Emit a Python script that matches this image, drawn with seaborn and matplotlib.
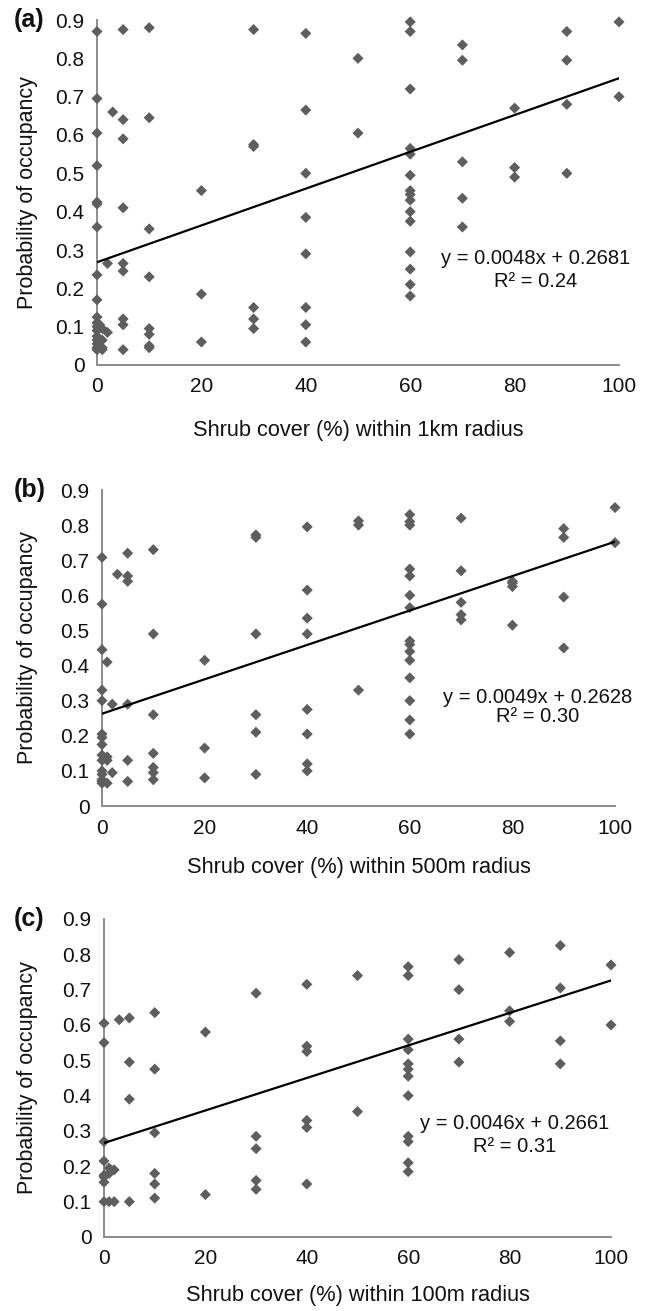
import matplotlib
matplotlib.use("Agg")
import matplotlib.pyplot as plt
import seaborn as sns
import pandas as pd

# values: x positions and the y values stacked at each one
a_xs = [0, 0.5, 1, 2, 3, 5, 10, 20, 30, 40, 50, 60, 70, 80, 90, 100]
a_ys = [
    [0.87, 0.695, 0.605, 0.52, 0.425, 0.42, 0.36, 0.235, 0.17, 0.125, 0.11, 0.10, 0.09, 0.075, 0.065, 0.055, 0.045, 0.04],
    [0.105, 0.06, 0.05],
    [0.095, 0.065, 0.045, 0.04],
    [0.265, 0.085],
    [0.66],
    [0.875, 0.64, 0.59, 0.41, 0.265, 0.245, 0.12, 0.105, 0.04],
    [0.88, 0.645, 0.355, 0.23, 0.095, 0.08, 0.05, 0.045],
    [0.455, 0.185, 0.06],
    [0.875, 0.575, 0.57, 0.15, 0.12, 0.095],
    [0.865, 0.665, 0.5, 0.385, 0.29, 0.15, 0.105, 0.06],
    [0.8, 0.605],
    [0.895, 0.87, 0.72, 0.565, 0.55, 0.495, 0.455, 0.445, 0.43, 0.4, 0.375, 0.295, 0.25, 0.21, 0.18],
    [0.835, 0.795, 0.53, 0.435, 0.36],
    [0.67, 0.515, 0.49],
    [0.87, 0.795, 0.68, 0.5],
    [0.895, 0.7],
]

b_xs = [0, 1, 2, 3, 5, 10, 20, 30, 40, 50, 60, 70, 80, 90, 100]
b_ys = [
    [0.708, 0.575, 0.445, 0.33, 0.30, 0.205, 0.195, 0.175, 0.145, 0.13, 0.10, 0.09, 0.075, 0.07, 0.065],
    [0.41, 0.14, 0.13, 0.065],
    [0.29, 0.095],
    [0.66],
    [0.72, 0.655, 0.64, 0.29, 0.13, 0.07],
    [0.73, 0.49, 0.26, 0.15, 0.11, 0.095, 0.075],
    [0.415, 0.165, 0.08],
    [0.772, 0.765, 0.49, 0.26, 0.21, 0.09],
    [0.795, 0.615, 0.535, 0.49, 0.275, 0.205, 0.12, 0.10],
    [0.812, 0.80, 0.33],
    [0.83, 0.81, 0.80, 0.675, 0.655, 0.60, 0.565, 0.47, 0.46, 0.44, 0.415, 0.365, 0.30, 0.245, 0.205],
    [0.82, 0.67, 0.58, 0.545, 0.53],
    [0.64, 0.635, 0.625, 0.515],
    [0.79, 0.765, 0.595, 0.45],
    [0.85, 0.75],
]

c_xs = [0, 1, 2, 3, 5, 10, 20, 30, 40, 50, 60, 70, 80, 90, 100]
c_ys = [
    [0.605, 0.55, 0.27, 0.215, 0.175, 0.17, 0.155, 0.10],
    [0.195, 0.18, 0.10],
    [0.19, 0.10],
    [0.615],
    [0.62, 0.495, 0.39, 0.10],
    [0.635, 0.475, 0.295, 0.18, 0.15, 0.11],
    [0.58, 0.12],
    [0.69, 0.285, 0.25, 0.16, 0.135],
    [0.715, 0.54, 0.525, 0.33, 0.31, 0.15],
    [0.74, 0.355],
    [0.765, 0.74, 0.56, 0.53, 0.49, 0.475, 0.455, 0.40, 0.285, 0.27, 0.21, 0.185],
    [0.785, 0.70, 0.56, 0.495],
    [0.805, 0.64, 0.61],
    [0.825, 0.705, 0.555, 0.49],
    [0.77, 0.60],
]

# trend lines as printed on the chart
slopes = [0.0048, 0.0049, 0.0046]
intercepts = [0.2681, 0.2628, 0.2661]
r2 = ["0.24", "0.30", "0.31"]
radius = ["1km", "500m", "100m"]
letters = ["(a)", "(b)", "(c)"]

sns.set_style("white")
plt.rcParams["font.family"] = ["Liberation Sans", "DejaVu Sans"]

W, H = 648, 1311
fig = plt.figure(figsize=(W / 100, H / 100), dpi=100)

# axes boxes in pixels: left, right, top (0.9), bottom (0)
boxes = [(97, 619, 20, 365), (102, 615, 490, 806), (104, 611, 919, 1237)]
xlab_y = [430, 867, 1296]
eq_pos = [(84, 0.279, 0.219), (85, 0.31, 0.255), (81, 0.32, 0.257)]

grey = "#8c8c8c"
dot = "#5e5e5e"

panels = [(a_xs, a_ys), (b_xs, b_ys), (c_xs, c_ys)]
for i, (xs, ys) in enumerate(panels):
    l, r, t, b = boxes[i]
    ax = fig.add_axes([l / W, 1 - b / H, (r - l) / W, (b - t) / H])

    df = pd.DataFrame([(x, y) for x, col in zip(xs, ys) for y in col], columns=["x", "y"])
    sns.scatterplot(data=df, x="x", y="y", marker="D", color=dot, s=32,
                    edgecolor="none", clip_on=False, zorder=3, ax=ax)

    line = pd.DataFrame({"x": [0, 100]})
    line["y"] = slopes[i] * line["x"] + intercepts[i]
    sns.lineplot(data=line, x="x", y="y", color="black", linewidth=1.6, ax=ax, zorder=4)

    ax.set_xlim(0, 100)
    ax.set_ylim(0, 0.9)
    ax.set_xticks(range(0, 101, 20))
    yt = [k / 10 for k in range(10)]
    ax.set_yticks(yt)
    ax.set_yticklabels(["0"] + [f"{v:.1f}" for v in yt[1:]])
    ax.set_xlabel("")
    ax.set_ylabel("")
    for s in ["top", "right"]:
        ax.spines[s].set_visible(False)
    for s in ["left", "bottom"]:
        ax.spines[s].set_color(grey)
        ax.spines[s].set_linewidth(1.4)
    ax.tick_params(direction="out", length=5, width=1.2, color=grey,
                   labelsize=15, labelcolor="#111111", pad=4)

    ex, ey1, ey2 = eq_pos[i]
    ax.text(ex, ey1, f"y = {slopes[i]:.4f}x + {intercepts[i]:.4f}", ha="center", va="center",
            fontsize=14.5, color="#111111")
    ax.text(ex, ey2, f"R² = {r2[i]}", ha="center", va="center", fontsize=14.5, color="#111111")

    fig.text(28 / W, 1 - (t + b) / 2 / H, "Probability of occupancy", rotation=90,
             ha="center", va="center", fontsize=15.5, color="#111111")
    fig.text((l + r) / 2 / W, 1 - xlab_y[i] / H, f"Shrub cover (%) within {radius[i]} radius",
             ha="center", va="center", fontsize=15.7, color="#111111")
    fig.text(14 / W, 1 - t / H, letters[i], ha="left", va="center",
             fontsize=18, fontweight="bold", color="#111111")

fig.savefig("out.png", dpi=100)
